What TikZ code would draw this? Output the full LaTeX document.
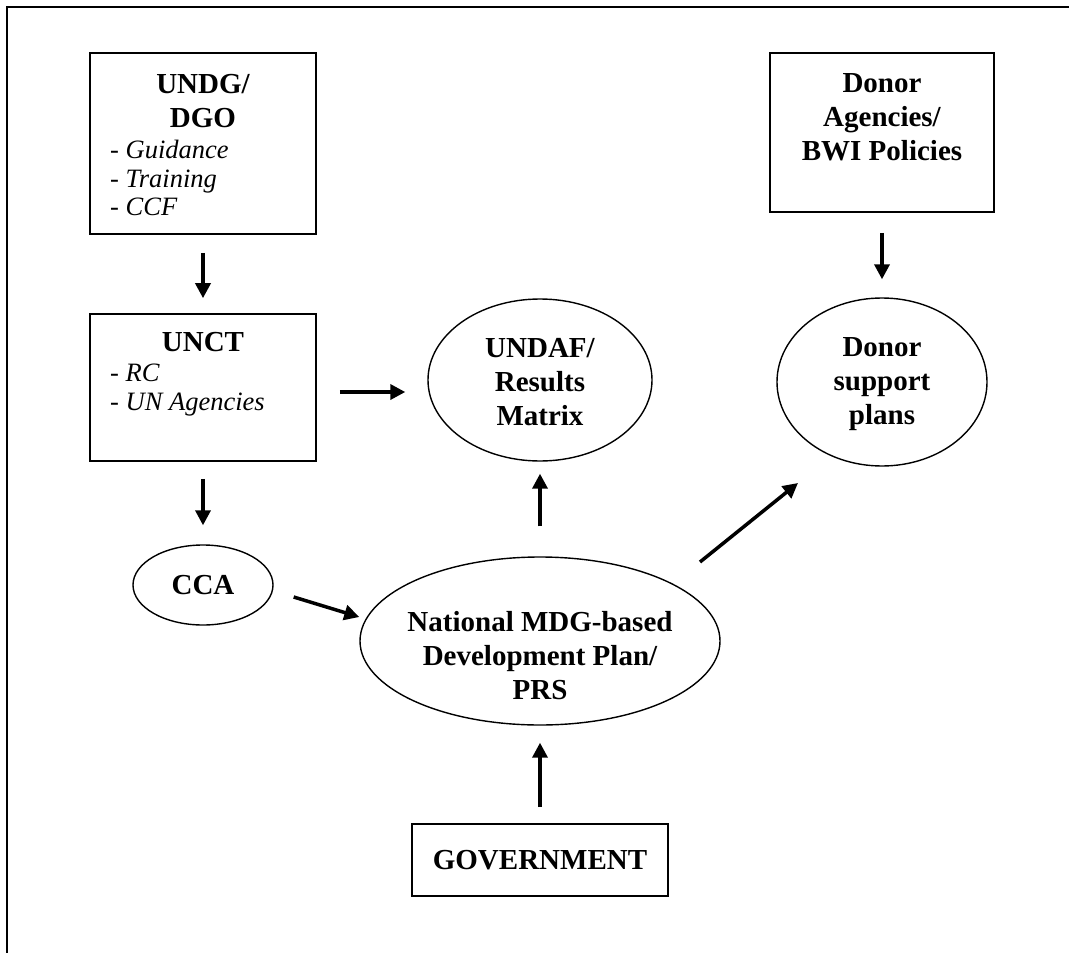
\documentclass[tikz,border=0pt]{standalone}
\usepackage{fontspec}
\setmainfont{Liberation Serif}
\usetikzlibrary{shapes.geometric,arrows.meta,calc}
\begin{document}
\begin{tikzpicture}[x=1pt,y=-1pt,
  frame/.style={line width=2.5pt},
  box/.style={draw,line width=1.6pt,inner sep=0pt},
  oval/.style={draw,ellipse,line width=1.4pt,inner sep=0pt},
  ttl/.style={font=\fontsize{29}{34}\selectfont\bfseries,inner sep=0pt,align=center},
  itm/.style={font=\fontsize{26.5}{29}\selectfont\itshape,inner sep=0pt,anchor=base west},
  arr/.style={line width=3.5pt,-{Triangle[length=15pt,width=15pt]}}]
\useasboundingbox (0,0) rectangle (1069,953);
\coordinate (fa) at (7,953);
\coordinate (fb) at (7,7);
\coordinate (fc) at (1069,7);
\draw[frame] (fa) -- (fb) -- (fc);

% UNDG box
\node[box,minimum width=226pt,minimum height=181pt] (undg) at (203,143.5) {};
\node[ttl,anchor=base] (undgA) at (203,93) {UNDG/};
\node[ttl,anchor=base] (undgB) at (203,127) {DGO};
\node[itm] (undgC) at (110,158) {- Guidance};
\node[itm] (undgD) at (110,187) {- Training};
\node[itm] (undgE) at (110,215) {- CCF};

% Donor box
\node[box,minimum width=224pt,minimum height=159pt] (dbox) at (882,132.5) {};
\node[ttl,anchor=base] (dboxA) at (882,92) {Donor};
\node[ttl,anchor=base] (dboxB) at (882,126) {Agencies/};
\node[ttl,anchor=base] (dboxC) at (882,160) {BWI Policies};

% UNCT box
\node[box,minimum width=226pt,minimum height=147pt] (unct) at (203,387.5) {};
\node[ttl,anchor=base] (unctA) at (203,351) {UNCT};
\node[itm] (unctB) at (110,381) {- RC};
\node[itm] (unctC) at (110,410) {- UN Agencies};

% ellipses
\node[oval,minimum width=224pt,minimum height=162pt] (undaf) at (540,380) {};
\node[ttl] (undafT) at (540,382) {UNDAF/\\Results\\Matrix};
\node[oval,minimum width=210pt,minimum height=168pt] (donor) at (882,382) {};
\node[ttl] (donorT) at (882,384) {Donor\\support\\plans};
\node[oval,minimum width=140pt,minimum height=80pt] (cca) at (203,585) {};
\node[ttl] (ccaT) at (203,585) {CCA};
\node[oval,minimum width=360pt,minimum height=168pt] (national) at (540,641) {};
\node[ttl] (nationalT) at (540,656) {National MDG-based\\Development Plan/\\PRS};

% Government
\node[box,minimum width=256pt,minimum height=72pt,font=\fontsize{29}{34}\selectfont\bfseries] (gov) at (540,860) {GOVERNMENT};

% arrows
\draw[arr,shorten <=18pt,shorten >=15pt] (undg.south) -- (unct.north);
\draw[arr,shorten <=20pt,shorten >=18pt] (dbox.south) -- (donor.north);
\draw[arr,shorten <=17pt,shorten >=19pt] (unct.south) -- (cca.north);
\draw[arr,shorten <=30pt,shorten >=12pt] (national.north) -- (undaf.south);
\draw[arr,shorten <=16pt,shorten >=17pt] (gov.north) -- (national.south);
\draw[arr] ($(unct.east)+(23,4.5)$) -- ($(undaf.west)+(-22,12)$);
\draw[arr] ($(cca.east)+(20,12)$) -- ($(national.west)+(0,-24)$);
\coordinate (nd1) at (700,562);
\coordinate (nd2) at (798,483);
\draw[arr] (nd1) -- (nd2);
\end{tikzpicture}
\end{document}
